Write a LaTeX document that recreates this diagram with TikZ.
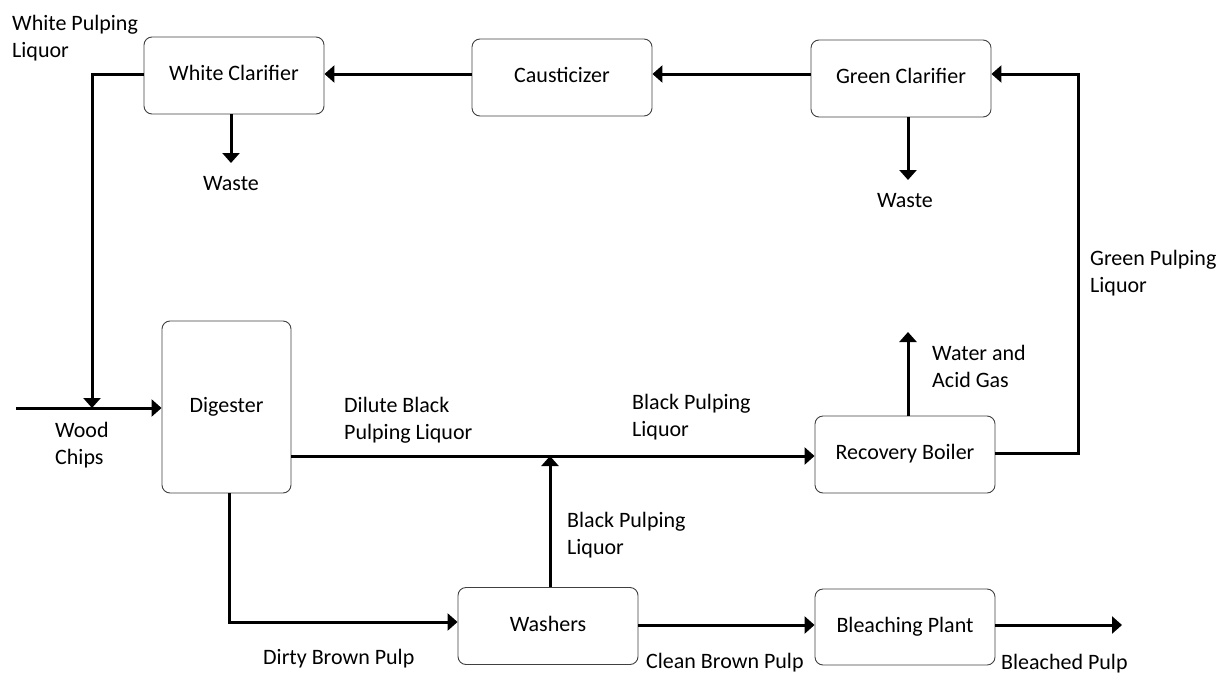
\documentclass[tikz,border=0pt]{standalone}
\usepackage{fontspec}
\setmainfont{Carlito}
\usetikzlibrary{arrows.meta}
\tikzset{
  box/.style={draw=black!75, line width=0.9pt, rounded corners=8pt, minimum width=180pt, minimum height=77pt, inner sep=0pt, text height=14pt, text depth=4pt},
  arr/.style={line width=3pt, -{Triangle[length=10pt,width=17pt]}},
  lbl/.style={anchor=base west, inner sep=0pt, align=left},
  lblc/.style={anchor=base, inner sep=0pt}
}
\begin{document}
\begin{tikzpicture}[x=1pt,y=-1pt,font=\fontsize{22}{27}\selectfont]
\useasboundingbox (0,0) rectangle (1225,677);
% boxes
\node[box] (WC) at (234,75.5) {White Clarifier};
\node[box] (C) at (562,77.5) {Causticizer};
\node[box] (GC) at (901,78.5) {Green Clarifier};
\node[box, minimum width=129pt, minimum height=172pt] (D) at (226.5,407) {Digester};
\node[box] (RB) at (905,454.5) {Recovery Boiler};
\node[box] (W) at (548,626) {Washers};
\node[box, minimum height=76pt] (BP) at (905,627) {Bleaching Plant};
% coordinates
\coordinate (top) at (0,74);
\coordinate (wj) at (92,408);
\coordinate (win) at (16,408);
\coordinate (w1) at (231,163);
\coordinate (w2) at (908,180);
\coordinate (jn) at (550,456);
\coordinate (dbp) at (229,622);
\coordinate (bout) at (1122,625);
\coordinate (gas) at (908,332);
\coordinate (gr) at (1078,453);
% connectors
\draw[arr] (C.west |- top) -- (WC.east |- top);
\draw[arr] (GC.west |- top) -- (C.east |- top);
\draw[arr] (RB.east |- gr) -- (gr) -- (gr |- top) -- (GC.east |- top);
\draw[arr] (WC.west |- top) -- (wj |- top) -- (wj);
\draw[arr] (win) -- (D.west |- win);
\draw[arr] (WC.south -| w1) -- (w1);
\draw[arr] (GC.south -| w2) -- (w2);
\draw[arr] (D.east |- jn) -- (RB.west |- jn);
\draw[arr] (W.north -| jn) -- (jn);
\draw[arr] (D.south -| dbp) -- (dbp) -- (W.west |- dbp);
\draw[arr] (W.east |- bout) -- (BP.west |- bout);
\draw[arr] (BP.east |- bout) -- (bout);
\draw[arr] (RB.north -| gas) -- (gas);
% labels (two-line labels: base = baseline of the last line)
\node[lbl] (l1) at (12,57) {White Pulping\\Liquor};
\node[lblc] (l2) at (231,190) {Waste};
\node[lblc] (l3) at (905,207) {Waste};
\node[lbl] (l4) at (1090,292) {Green Pulping\\Liquor};
\node[lbl] (l5) at (932,387) {Water and\\Acid Gas};
\node[lbl] (l6) at (55,464) {Wood\\Chips};
\node[lbl] (l7) at (344,439) {Dilute Black\\Pulping Liquor};
\node[lbl] (l8) at (632,436) {Black Pulping\\Liquor};
\node[lbl] (l9) at (567,554) {Black Pulping\\Liquor};
\node[lbl] (l10) at (263,664) {Dirty Brown Pulp};
\node[lbl] (l11) at (646,668) {Clean Brown Pulp};
\node[lbl] (l12) at (1001,669) {Bleached Pulp};
\end{tikzpicture}
\end{document}
